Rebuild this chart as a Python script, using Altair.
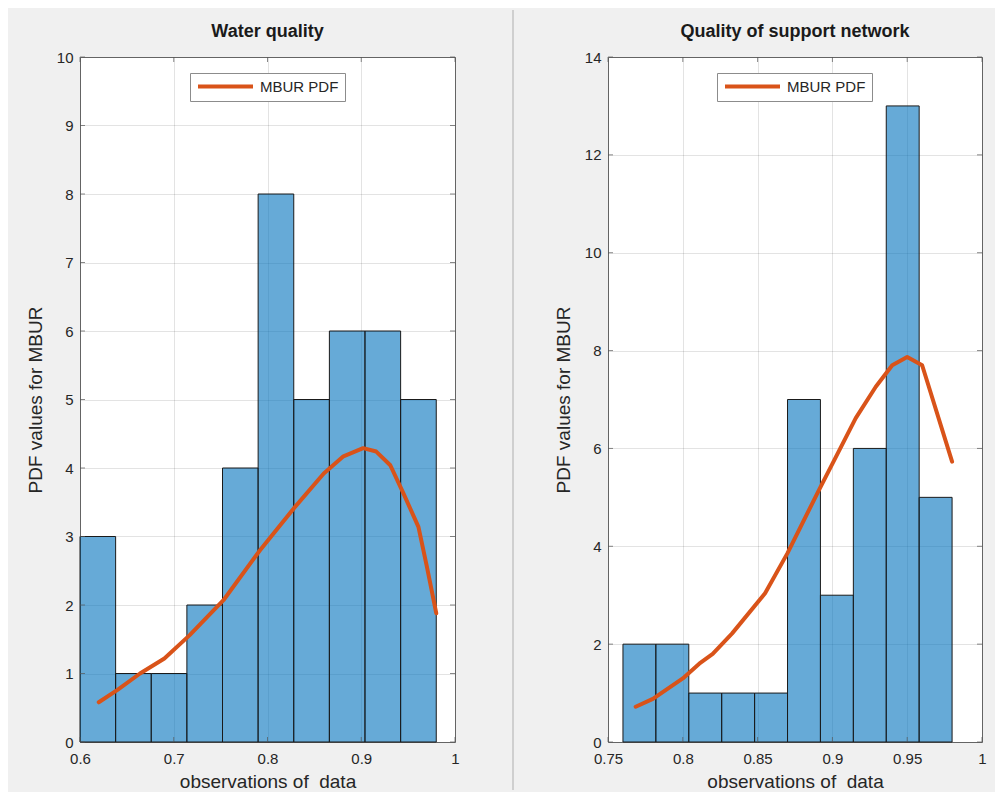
import altair as alt
import pandas as pd

# ---- data ----
left_edges = [0.6, 0.638, 0.676, 0.714, 0.752, 0.79, 0.828, 0.866, 0.904, 0.942, 0.98]
left_counts = [3, 1, 1, 2, 4, 8, 5, 6, 6, 5]
left_pdf_x = [0.62, 0.64, 0.664, 0.69, 0.717, 0.753, 0.792, 0.828, 0.86, 0.881, 0.902,
              0.916, 0.931, 0.945, 0.961, 0.970, 0.980]
left_pdf_y = [0.58, 0.76, 1.0, 1.22, 1.56, 2.07, 2.80, 3.41, 3.92, 4.17, 4.29,
              4.24, 4.04, 3.63, 3.14, 2.56, 1.88]

right_edges = [0.76, 0.782, 0.804, 0.826, 0.848, 0.87, 0.892, 0.914, 0.936, 0.958, 0.98]
right_counts = [2, 2, 1, 1, 1, 7, 3, 6, 13, 5]
right_pdf_x = [0.7685, 0.78, 0.80, 0.811, 0.82, 0.833, 0.855, 0.87, 0.891, 0.9156,
               0.929, 0.94, 0.95, 0.96, 0.98]
right_pdf_y = [0.72, 0.88, 1.30, 1.60, 1.80, 2.22, 3.04, 3.86, 5.15, 6.62,
               7.26, 7.70, 7.87, 7.70, 5.73]

titles = ["Water quality", "Quality of support network"]
x_ticks = [[0.6, 0.7, 0.8, 0.9, 1.0], [0.75, 0.8, 0.85, 0.9, 0.95, 1.0]]
y_ticks = [list(range(0, 11)), list(range(0, 15, 2))]
x_domains = [[0.6, 1.0], [0.75, 1.0]]
y_domains = [[0, 10], [0, 14]]

BAR = "#0072BD"
LINE = "#D95319"
FONT = "Liberation Sans"
TXT = "#262626"
TICK = "#555555"

H = 685


def panel(edges, counts, px, py, title, xt, yt, xd, yd, legx, width):
    bars = pd.DataFrame({"x0": edges[:-1], "x1": edges[1:], "count": counts})
    pdf = pd.DataFrame({"x": px, "y": py, "series": ["MBUR PDF"] * len(px)})
    xtk = pd.DataFrame({"v": xt})
    ytk = pd.DataFrame({"v": yt})

    xscale = alt.Scale(domain=xd, nice=False, zero=False)
    yscale = alt.Scale(domain=yd, nice=False)
    xaxis = alt.Axis(values=xt, format="~g", title="observations of\u00a0 data",
                     grid=True, tickSize=0, labelPadding=9, titlePadding=6,
                     labelFlush=False)
    yaxis = alt.Axis(values=yt, format="d", title="PDF values for MBUR", grid=True,
                     tickSize=0, labelPadding=7, titlePadding=11, labelFlush=False)

    rect = alt.Chart(bars).mark_rect(
        fill=BAR, fillOpacity=0.6, stroke="#1a1a1a", strokeWidth=1
    ).encode(
        x=alt.X("x0:Q", scale=xscale, axis=xaxis),
        x2="x1:Q",
        y=alt.Y("count:Q", scale=yscale, axis=yaxis),
        y2=alt.datum(0),
    )
    line = alt.Chart(pdf).mark_line(
        strokeWidth=4, strokeCap="round", strokeJoin="round"
    ).encode(
        x=alt.X("x:Q", scale=xscale),
        y=alt.Y("y:Q", scale=yscale),
        color=alt.Color(
            "series:N",
            scale=alt.Scale(range=[LINE]),
            legend=alt.Legend(
                orient="none", legendX=legx, legendY=16, title=None,
                fillColor="white", strokeColor="#8c8c8c", padding=6,
                symbolType="stroke", symbolStrokeWidth=4, symbolSize=3025,
                clipHeight=15,
                labelFontSize=15, labelFont=FONT, labelColor=TXT,
                labelOffset=5, cornerRadius=0,
            ),
        ),
    )
    # inward tick marks on all four sides (MATLAB style)
    tk_left = alt.Chart(ytk).mark_tick(orient="horizontal", size=5, thickness=1, color=TICK).encode(
        y=alt.Y("v:Q", scale=yscale), x=alt.value(2.5))
    tk_right = alt.Chart(ytk).mark_tick(orient="horizontal", size=5, thickness=1, color=TICK).encode(
        y=alt.Y("v:Q", scale=yscale), x=alt.value(width - 2.5))
    tk_bottom = alt.Chart(xtk).mark_tick(orient="vertical", size=5, thickness=1, color=TICK).encode(
        x=alt.X("v:Q", scale=xscale), y=alt.value(H - 2.5))
    tk_top = alt.Chart(xtk).mark_tick(orient="vertical", size=5, thickness=1, color=TICK).encode(
        x=alt.X("v:Q", scale=xscale), y=alt.value(2.5))

    return alt.layer(rect, line, tk_left, tk_right, tk_bottom, tk_top).properties(
        width=width, height=H,
        view=alt.ViewBackground(fill="white", stroke="#6e6e6e", strokeWidth=1),
        title=alt.TitleParams(title, fontSize=18, fontWeight="bold", font=FONT,
                              color="#1a1a1a", offset=9),
    ).resolve_scale(color="independent")


left = panel(left_edges, left_counts, left_pdf_x, left_pdf_y, titles[0],
             x_ticks[0], y_ticks[0], x_domains[0], y_domains[0], 110, 375)
right = panel(right_edges, right_counts, right_pdf_x, right_pdf_y, titles[1],
              x_ticks[1], y_ticks[1], x_domains[1], y_domains[1], 109, 374)

divider = alt.Chart(pd.DataFrame({"d": [0]})).mark_rule(
    color="#c4c4c4", strokeWidth=1.5
).encode(
    x=alt.value(58), y=alt.value(-47), y2=alt.value(733)
).properties(
    width=153, height=H,
    view=alt.ViewBackground(fill="transparent", stroke="transparent"),
)

chart = alt.hconcat(left, divider, right, spacing=0, bounds="flush").resolve_scale(
    color="independent"
).resolve_legend(color="independent").properties(
    padding={"left": 17, "top": 0, "right": 8, "bottom": 0}
).configure(
    background="#f0f0f0",
).configure_axis(
    labelFont=FONT, labelFontSize=15, labelColor=TXT,
    titleFont=FONT, titleFontSize=19, titleFontWeight="normal", titleColor=TXT,
    domain=False, gridColor="#262626", gridOpacity=0.13, gridWidth=1,
)

chart.save("out.html", embed_options={"renderer": "svg", "actions": False})
